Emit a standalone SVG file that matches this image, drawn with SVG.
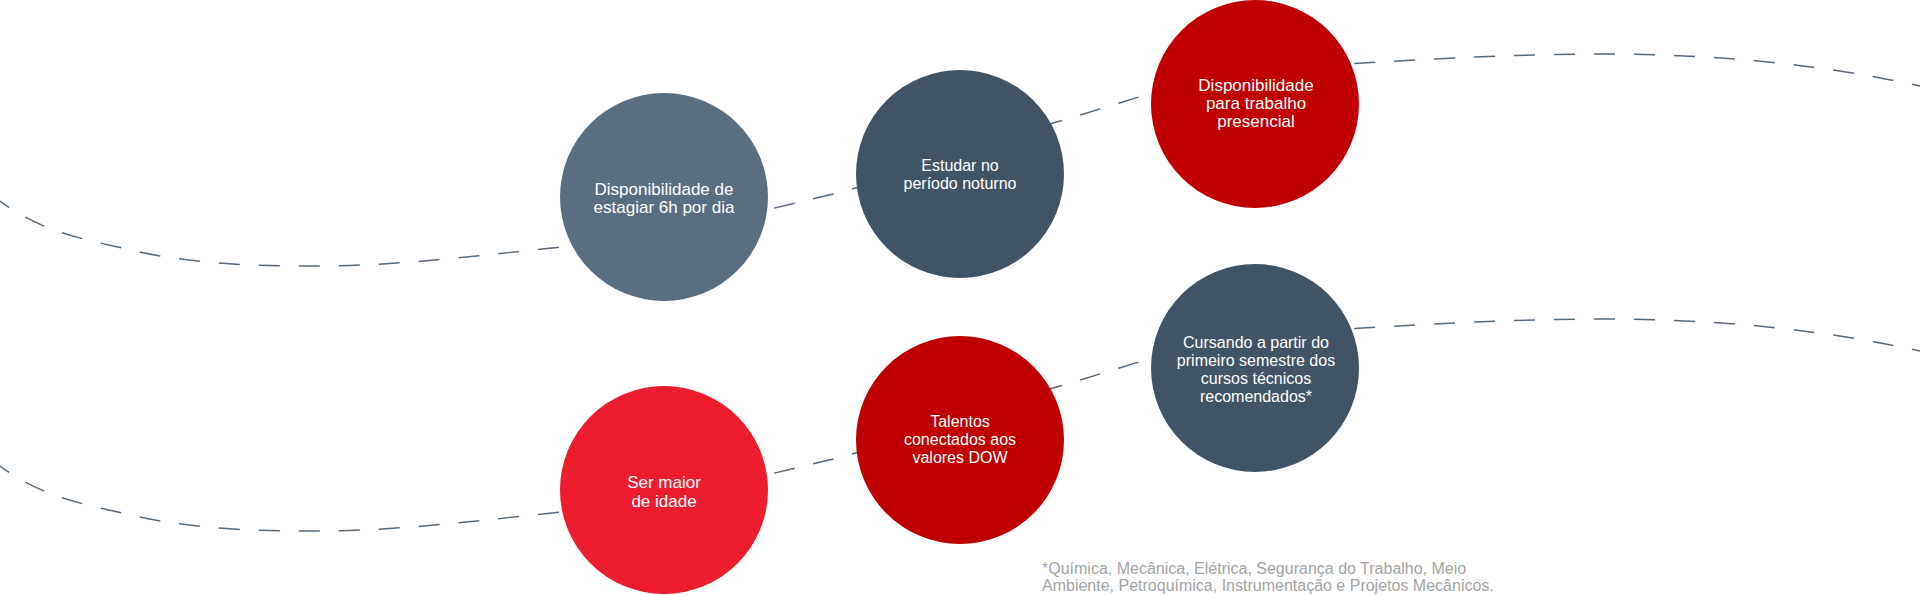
<svg xmlns="http://www.w3.org/2000/svg" xmlns:xlink="http://www.w3.org/1999/xlink" width="1920" height="595" viewBox="0 0 1920 595">
  <style>
    .curve { fill: none; stroke: #56697d; stroke-width: 1.5; stroke-dasharray: 21 19; stroke-dashoffset: 10; }
    .lbl { font-family: "Liberation Sans", Arial, sans-serif; fill: #ffffff; text-anchor: middle; }
    .s17 { font-size: 17px; }
    .s16 { font-size: 16px; }
    .note { font-family: "Liberation Sans", Arial, sans-serif; font-size: 16px; fill: #a3a3a3; }
  </style>
  <defs>
    <path id="wave" d="M0,201 C42,232.5 84,238.9 126,249 C190,264.4 254,266 318,266 C402.3,266 486.7,254.4 571,246 C657,237.4 743,215.6 829,195 C906,176.5 983,143.3 1060,121 C1090.7,112.1 1121.3,102.2 1152,93 C1228.3,70.1 1304.7,66.6 1381,62 C1454,57.6 1527,54 1600,54 C1706.7,54 1813.3,62.5 1920,86"/>
  </defs>
  <rect x="0" y="0" width="1920" height="595" fill="#ffffff"/>
  <g id="connectors">
    <use xlink:href="#wave" href="#wave" class="curve"/>
    <use xlink:href="#wave" href="#wave" class="curve" transform="translate(0,265)"/>
  </g>
  <g id="node-estagiar">
    <circle cx="664" cy="197" r="104" fill="#5a6e82"/>
    <text class="lbl s17"><tspan x="664" y="195">Disponibilidade de</tspan><tspan x="664" y="213">estagiar 6h por dia</tspan></text>
  </g>
  <g id="node-noturno">
    <circle cx="960" cy="174" r="104" fill="#415466"/>
    <text class="lbl s16"><tspan x="960" y="171">Estudar no</tspan><tspan x="960" y="189">período noturno</tspan></text>
  </g>
  <g id="node-presencial">
    <circle cx="1255" cy="104" r="104" fill="#c00000"/>
    <text class="lbl s17"><tspan x="1256" y="91">Disponibilidade</tspan><tspan x="1256" y="109">para trabalho</tspan><tspan x="1256" y="127">presencial</tspan></text>
  </g>
  <g id="node-maior">
    <circle cx="664" cy="490" r="104" fill="#ed1c2e"/>
    <text class="lbl s17"><tspan x="664" y="488">Ser maior</tspan><tspan x="664" y="507">de idade</tspan></text>
  </g>
  <g id="node-valores">
    <circle cx="960" cy="440" r="104" fill="#c00000"/>
    <text class="lbl s16"><tspan x="960" y="427">Talentos</tspan><tspan x="960" y="445">conectados aos</tspan><tspan x="960" y="463">valores DOW</tspan></text>
  </g>
  <g id="node-cursando">
    <circle cx="1255" cy="368" r="104" fill="#415466"/>
    <text class="lbl s16"><tspan x="1256" y="348">Cursando a partir do</tspan><tspan x="1256" y="366">primeiro semestre dos</tspan><tspan x="1256" y="384">cursos técnicos</tspan><tspan x="1256" y="402">recomendados*</tspan></text>
  </g>
  <g id="footnote">
    <text class="note"><tspan x="1042" y="574">*Química, Mecânica, Elétrica, Segurança do Trabalho, Meio</tspan><tspan x="1042" y="591">Ambiente, Petroquímica, Instrumentação e Projetos Mecânicos.</tspan></text>
  </g>
</svg>
